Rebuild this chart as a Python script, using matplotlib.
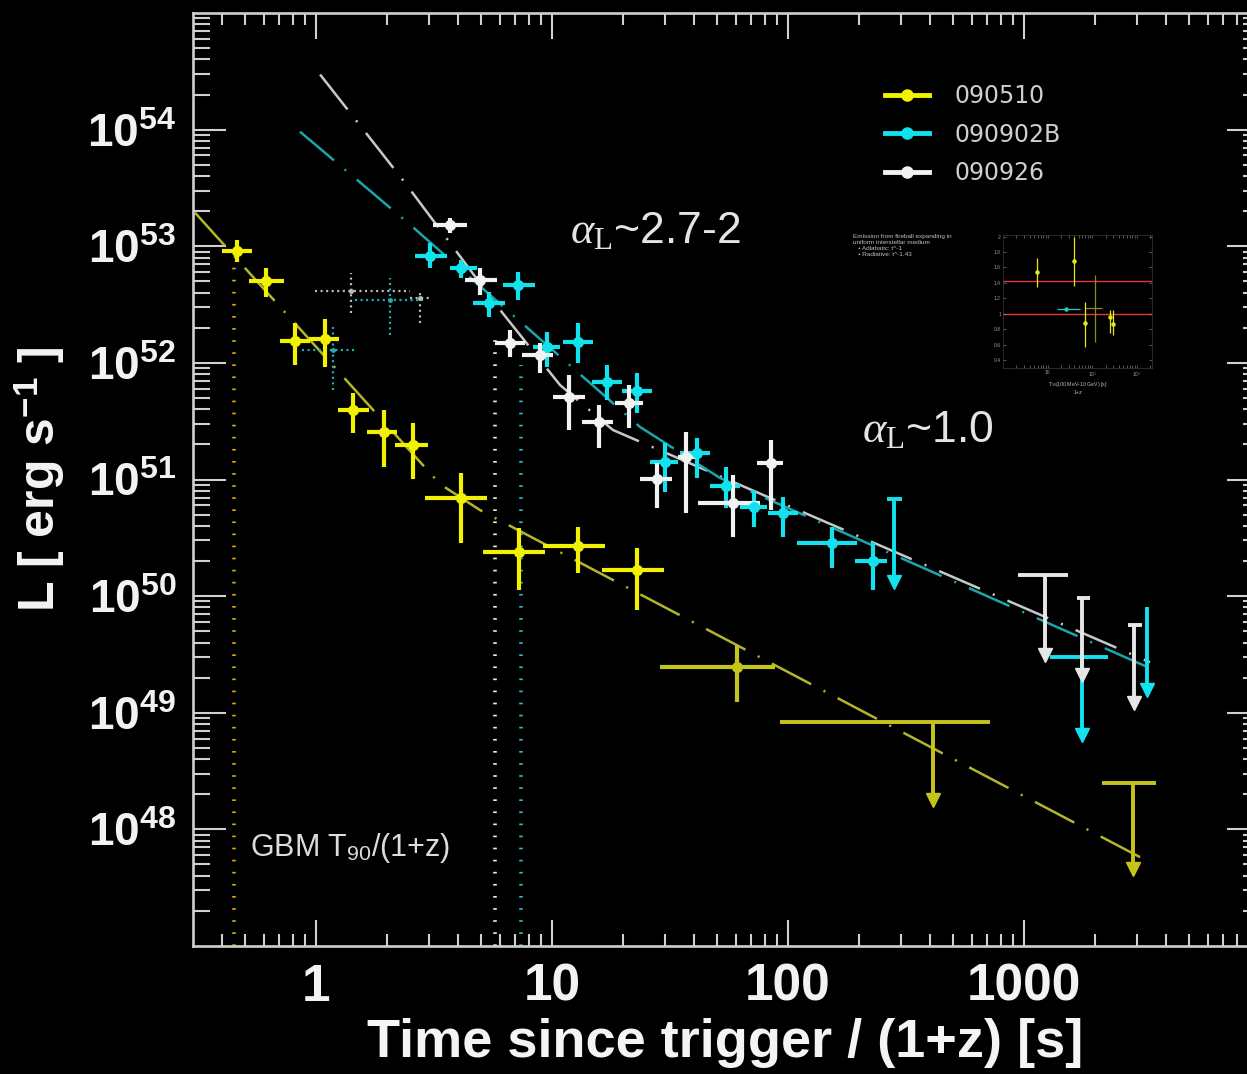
import matplotlib
matplotlib.use("Agg")
import matplotlib.pyplot as plt
from matplotlib.lines import Line2D
from matplotlib.ticker import LogLocator, NullFormatter, FixedLocator
import numpy as np

plt.rcParams["font.family"] = ["Liberation Sans", "DejaVu Sans"]
plt.rcParams["mathtext.fontset"] = "custom"
plt.rcParams["mathtext.rm"] = "Liberation Serif"
plt.rcParams["mathtext.it"] = "Liberation Serif:italic"
plt.rcParams["mathtext.bf"] = "Liberation Sans:bold"
plt.rcParams["mathtext.sf"] = "Liberation Sans"
plt.rcParams["lines.scale_dashes"] = False

W, H = 1247, 1074

# ---- GRB 090510 (yellow) ----
t_510 = [0.463, 0.614, 0.815, 1.09, 1.435, 1.94, 2.58, 4.12, 7.25, 12.9, 22.9]
t_510_lo = [0.40, 0.520, 0.703, 0.933, 1.24, 1.64, 2.16, 2.90, 5.10, 9.16, 16.3]
t_510_hi = [0.536, 0.731, 0.943, 1.25, 1.68, 2.20, 2.98, 5.30, 9.34, 16.8, 29.8]
L_510 = [9.1e52, 5.06e52, 1.55e52, 1.61e52, 3.95e51, 2.56e51, 1.98e51, 6.93e50, 2.39e50, 2.69e50, 1.67e50]
L_510_lo = [7.36e52, 3.69e52, 9.6e51, 9.25e51, 2.51e51, 1.28e51, 1.01e51, 2.85e50, 1.13e50, 1.57e50, 7.59e49]
L_510_hi = [1.14e53, 6.53e52, 2.20e52, 2.39e52, 5.52e51, 3.95e51, 3.05e51, 1.14e51, 3.84e50, 3.91e50, 2.58e50]

# late detection and upper limits of 090510
t_510_late = [60.8]
t_510_late_lo = [28.7]
t_510_late_hi = [88.1]
L_510_late = [2.46e49]
L_510_late_lo = [1.23e49]
L_510_late_hi = [3.79e49]

t_510_ul = [411, 2897]
t_510_ul_lo = [92.5, 2140]
t_510_ul_hi = [718, 3640]
L_510_ul = [8.3e48, 2.48e48]
L_510_ul_tip = [1.77e48, 4.6e47]

# ---- GRB 090902B (cyan) ----
t_902 = [3.04, 4.12, 5.41, 7.18, 9.52, 12.9, 17.1, 22.9, 30.1, 41.1, 54.6, 71.8, 95.3, 154, 229]
t_902_lo = [2.63, 3.70, 4.63, 6.20, 8.30, 11.1, 14.8, 19.8, 26.0, 34.9, 46.7, 62.6, 82.2, 109, 192]
t_902_hi = [3.59, 4.81, 6.32, 8.47, 10.8, 14.9, 19.8, 26.5, 34.2, 46.7, 62.6, 81.5, 110, 196, 263]
L_902 = [8.28e52, 6.53e52, 3.27e52, 4.67e52, 1.37e52, 1.51e52, 6.87e51, 5.75e51, 1.41e51, 1.69e51,
         8.79e50, 5.81e50, 5.15e50, 2.85e50, 2.0e50]
L_902_lo = [6.53e52, 5.37e52, 2.48e52, 3.47e52, 9.25e51, 1.0e52, 4.81e51, 3.72e51, 7.81e50, 1.03e51,
            5.69e50, 3.91e50, 3.21e50, 1.74e50, 1.13e50]
L_902_hi = [1.07e53, 7.66e52, 4.07e52, 6.04e52, 1.85e52, 2.20e52, 9.6e51, 8.2e51, 2.06e51, 2.27e51,
            1.28e51, 8.13e50, 7.08e50, 3.91e50, 2.91e50]

t_902_ul = [281, 1762, 3320]
t_902_ul_lo = [263, 1288, 3320]
t_902_ul_hi = [303, 2270, 3320]
L_902_ul = [6.8e50, 2.99e49, 8.05e49]
L_902_ul_tip = [1.32e50, 6.4e48, 1.56e49]

# ---- GRB 090926 (white) ----
t_926 = [3.70, 4.95, 6.64, 8.89, 11.8, 15.8, 21.2, 27.9, 37.0, 58.5, 84.7]
t_926_lo = [3.13, 4.28, 5.73, 7.46, 10.1, 13.4, 18.5, 23.6, 34.2, 41.6, 73.9]
t_926_hi = [4.36, 5.85, 7.69, 10.1, 13.8, 18.1, 24.3, 32.2, 41.1, 76.1, 95.3]
L_926 = [1.53e53, 5.15e52, 1.49e52, 1.17e52, 5.11e51, 3.12e51, 4.54e51, 1.01e51, 1.56e51, 6.28e50, 1.39e51]
L_926_lo = [1.31e53, 3.84e52, 1.13e52, 8.2e51, 2.66e51, 1.86e51, 2.77e51, 5.69e50, 5.15e50, 3.21e50, 5.47e50]
L_926_hi = [1.76e53, 6.53e52, 1.92e52, 1.49e52, 7.89e51, 4.36e51, 6.47e51, 1.39e51, 2.56e51, 1.09e51, 2.18e51]

t_926_ul = [1227, 1762, 2924]
t_926_ul_lo = [943, 1678, 2760]
t_926_ul_hi = [1535, 1905, 3162]
L_926_ul = [1.51e50, 9.6e49, 5.64e49]
L_926_ul_tip = [3.12e49, 2.10e49, 1.21e49]

# faint dotted (prompt-phase) points
t_dw = [1.41, 2.76]
t_dw_lo = [0.99, 2.50]
t_dw_hi = [2.50, 3.10]
L_dw = [4.15e52, 3.61e52]
L_dw_lo = [2.69e52, 2.20e52]
L_dw_hi = [5.93e52, 4.24e52]

t_dc = [2.06, 1.18]
t_dc_lo = [1.46, 0.873]
t_dc_hi = [2.84, 1.49]
L_dc = [3.47e52, 1.29e52]
L_dc_lo = [1.74e52, 5.86e51]
L_dc_hi = [5.37e52, 2.04e52]

# fitted (broken) power laws, vertices
fit_510_t = [0.307, 3.35, 4.95, 3487]
fit_510_L = [1.94e53, 9.15e50, 5.47e50, 5.1e47]
fit_926_t = [1.04, 2.38, 6.02, 10.8, 18.1, 3420]
fit_926_L = [2.97e54, 3.51e53, 2.85e52, 6.47e51, 2.66e51, 2.71e49]
fit_902_t = [0.855, 2.45, 23.6, 51.5, 3420]
fit_902_L = [9.6e53, 1.59e53, 2.82e51, 1.03e51, 2.41e49]

# GBM T90/(1+z) markers
t90 = [0.45, 5.73, 7.39]
t90_top = [7.5e52, 1.92e52, 9.6e51]

# inset: decay index vs T90
ins_t = [5.9, 39, 69, 245, 300]
ins_r = [1.54, 1.68, 0.88, 0.96, 0.87]
ins_r_lo = [1.35, 1.36, 0.57, 0.75, 0.73]
ins_r_hi = [1.72, 2.0, 1.15, 1.05, 1.05]
ins_olive_t = [117]
ins_olive_t_lo = [69]
ins_olive_t_hi = [170]
ins_olive_r = [1.08]
ins_olive_r_lo = [0.64]
ins_olive_r_hi = [1.5]
ins_cyan_t = [25.7]
ins_cyan_t_lo = [16]
ins_cyan_t_hi = [53]
ins_cyan_r = [1.06]
ins_ref = [1.43, 1.0]

YEL = "#f2f200"
YEL2 = "#c4c41c"
CYA = "#12e2ee"
WHI = "#f2f2f2"
GRY = "#d0d0d0"


def points(ax, t, lo, hi, L, Llo, Lhi, color, lw=3.0, ms=7, ls="-"):
    t, lo, hi = np.array(t), np.array(lo), np.array(hi)
    L, Llo, Lhi = np.array(L), np.array(Llo), np.array(Lhi)
    eb = ax.errorbar(t, L, xerr=[t - lo, hi - t], yerr=[L - Llo, Lhi - L], fmt="o",
                     color=color, mec=color, ms=ms, elinewidth=lw, capsize=0, zorder=4)
    if ls != "-":
        for c in eb[2]:
            c.set_linestyle(ls)
    return eb


def limits(ax, t, lo, hi, L, tip, color, lw=2.8, ms=10):
    ax.hlines(L, lo, hi, color=color, lw=lw, zorder=4)
    ax.vlines(t, tip, L, color=color, lw=lw, zorder=4)
    ax.plot(t, tip, "v", color=color, ms=ms, zorder=4, ls="none")


fig = plt.figure(figsize=(W / 100, H / 100), dpi=100, facecolor="black")
ax = fig.add_axes([193 / W, 1 - 946 / H, (1260 - 193) / W, (946 - 13) / H])
ax.set_facecolor("black")
ax.set_xscale("log")
ax.set_yscale("log")
ax.set_xlim(0.301, 1e4)
ax.set_ylim(1e47, 1e55)

dashdot = (0, (32, 10, 1.5, 10))
ax.plot(fit_510_t, fit_510_L, color="#b5b52a", lw=1.8, ls=dashdot, zorder=2)
ax.plot(fit_926_t, fit_926_L, color="#c8c8c8", lw=1.8, ls=dashdot, zorder=2)
ax.plot(fit_902_t, fit_902_L, color="#1aa6ae", lw=1.8, ls=dashdot, zorder=2)

for t, top, c in zip(t90, t90_top, ["#e0aa00", "#eeeeee", "#26c2c6"]):
    ax.vlines(t, 1e47, top, color=c, lw=2.6, ls=(0, (1.2, 7.5)), zorder=1)

points(ax, t_dw, t_dw_lo, t_dw_hi, L_dw, L_dw_lo, L_dw_hi, "#bdbdbd", lw=1.6, ms=2.5, ls=(0, (1.5, 2.5)))
points(ax, t_dc, t_dc_lo, t_dc_hi, L_dc, L_dc_lo, L_dc_hi, "#1fb0b6", lw=1.6, ms=2.5, ls=(0, (1.5, 2.5)))

points(ax, t_510, t_510_lo, t_510_hi, L_510, L_510_lo, L_510_hi, YEL)
points(ax, t_510_late, t_510_late_lo, t_510_late_hi, L_510_late, L_510_late_lo, L_510_late_hi, YEL2)
limits(ax, t_510_ul, t_510_ul_lo, t_510_ul_hi, L_510_ul, L_510_ul_tip, YEL2)

points(ax, t_902, t_902_lo, t_902_hi, L_902, L_902_lo, L_902_hi, CYA)
limits(ax, t_902_ul, t_902_ul_lo, t_902_ul_hi, L_902_ul, L_902_ul_tip, CYA)

points(ax, t_926, t_926_lo, t_926_hi, L_926, L_926_lo, L_926_hi, WHI)
limits(ax, t_926_ul, t_926_ul_lo, t_926_ul_hi, L_926_ul, L_926_ul_tip, "#e6e6e6")

# axes styling
for s in ax.spines.values():
    s.set_color(GRY)
    s.set_linewidth(1.9)
ax.xaxis.set_major_locator(FixedLocator([1, 10, 100, 1000, 10000]))
ax.set_xticklabels(["1", "10", "100", "1000", ""])
ax.xaxis.set_minor_locator(LogLocator(base=10, subs=np.arange(2, 10), numticks=100))
ax.xaxis.set_minor_formatter(NullFormatter())
ax.yaxis.set_major_locator(FixedLocator([10.0 ** k for k in range(48, 55)]))
ax.set_yticklabels([r"$\mathbf{10^{%d}}$" % k for k in range(48, 55)])
ax.yaxis.set_minor_locator(LogLocator(base=10, subs=np.arange(2, 10), numticks=100))
ax.yaxis.set_minor_formatter(NullFormatter())

ax.tick_params(axis="both", which="both", direction="in", top=True, right=True, color=GRY, width=1.5)
ax.tick_params(axis="x", which="major", length=19, pad=12, labelsize=37, labelcolor="#f2f2f2")
ax.tick_params(axis="x", which="minor", length=8.5)
ax.tick_params(axis="y", which="major", length=24, pad=12, labelsize=33, labelcolor="#f2f2f2")
ax.tick_params(axis="y", which="minor", length=12)
for lab in ax.get_xticklabels():
    lab.set_fontweight("bold")

ax.set_xlabel("Time since trigger / (1+z) [s]", fontsize=39, fontweight="bold", color="#f4f4f4")
ax.set_ylabel(r"L [ erg s$^{\mathbf{-1}}$ ]", fontsize=36, fontweight="bold", color="#f4f4f4")
ax.xaxis.set_label_coords(0.499, -0.077)
ax.yaxis.set_label_coords(-0.118, 0.50)

# annotations
fig.text(250 / W, 1 - 848 / H, r"GBM T$_{\mathsf{90}}$/(1+z)", fontsize=22, color="#dcdcdc",
         ha="left", va="center")
fig.text(570 / W, 1 - 243 / H, r"$\alpha_{\mathrm{L}}$~2.7-2", fontsize=32, color="#e4e4e4",
         ha="left", va="baseline")
fig.text(862 / W, 1 - 442 / H, r"$\alpha_{\mathrm{L}}$~1.0", fontsize=32, color="#e4e4e4",
         ha="left", va="baseline")

# legend
handles = [Line2D([], [], color=c, marker="o", lw=3.5, ms=8) for c in (YEL, CYA, WHI)]
leg = ax.legend(handles, ["090510", "090902B", "090926"], loc="upper left",
                bbox_to_anchor=(885 / W, 1 - 84 / H), bbox_transform=fig.transFigure,
                frameon=False, prop={"family": "DejaVu Sans", "size": 17},
                handlelength=1.85, handletextpad=1.1, labelspacing=0.62, borderpad=0, borderaxespad=0)
for txt in leg.get_texts():
    txt.set_color("#cfcfcf")

# small inset (decay index vs T90)
fig.text(853 / W, 1 - 234 / H,
         "Emission from fireball expanding in\nuniform interstellar medium\n"
         "   \u2022 Adiabatic: t^-1\n   \u2022 Radiative: t^-1.43",
         fontsize=4.6, color="#c0c0c0", ha="left", va="top", linespacing=1.25)

ins = fig.add_axes([1003 / W, 1 - 368 / H, 149 / W, 133 / H])
ins.set_facecolor("black")
ins.set_xscale("log")
ins.set_xlim(1, 2200)
ins.set_ylim(0.3, 2.02)
for r in ins_ref:
    ins.axhline(r, color="#e03a3a", lw=1.0, zorder=1)
it = np.array(ins_t)
ir = np.array(ins_r)
ins.errorbar(it, ir, yerr=[ir - np.array(ins_r_lo), np.array(ins_r_hi) - ir], fmt="o",
             color="#e8e820", ms=2.2, elinewidth=0.9, capsize=0, zorder=3)
ot = np.array(ins_olive_t)
orr = np.array(ins_olive_r)
ins.errorbar(ot, orr, xerr=[ot - np.array(ins_olive_t_lo), np.array(ins_olive_t_hi) - ot],
             yerr=[orr - np.array(ins_olive_r_lo), np.array(ins_olive_r_hi) - orr], fmt="none",
             ecolor="#8a8a20", elinewidth=0.9, capsize=0, zorder=2)
ct = np.array(ins_cyan_t)
ins.errorbar(ct, ins_cyan_r, xerr=[ct - np.array(ins_cyan_t_lo), np.array(ins_cyan_t_hi) - ct],
             fmt="o", color="#20c8c8", ms=2.2, elinewidth=0.9, capsize=0, zorder=3)
for s in ins.spines.values():
    s.set_color("#3a3a3a")
    s.set_linewidth(0.5)
ins.set_yticks([0.4, 0.6, 0.8, 1.0, 1.2, 1.4, 1.6, 1.8, 2.0])
ins.set_yticklabels(["0.4", "0.6", "0.8", "1", "1.2", "1.4", "1.6", "1.8", "2"])
ins.set_xticks([10, 100, 1000])
ins.set_xticklabels(["10", r"10$^2$", r"10$^3$"])
ins.xaxis.set_minor_formatter(NullFormatter())
ins.tick_params(axis="both", which="both", direction="in", colors="#9a9a9a", labelsize=3.6,
                length=2, width=0.4, pad=1.5, top=True, right=True)
ins.set_xlabel("T$_{90}$(100 MeV-10 GeV) [s]\n1+z", fontsize=3.8, color="#bdbdbd", labelpad=1)

fig.savefig("out.png", dpi=100, facecolor="black")
